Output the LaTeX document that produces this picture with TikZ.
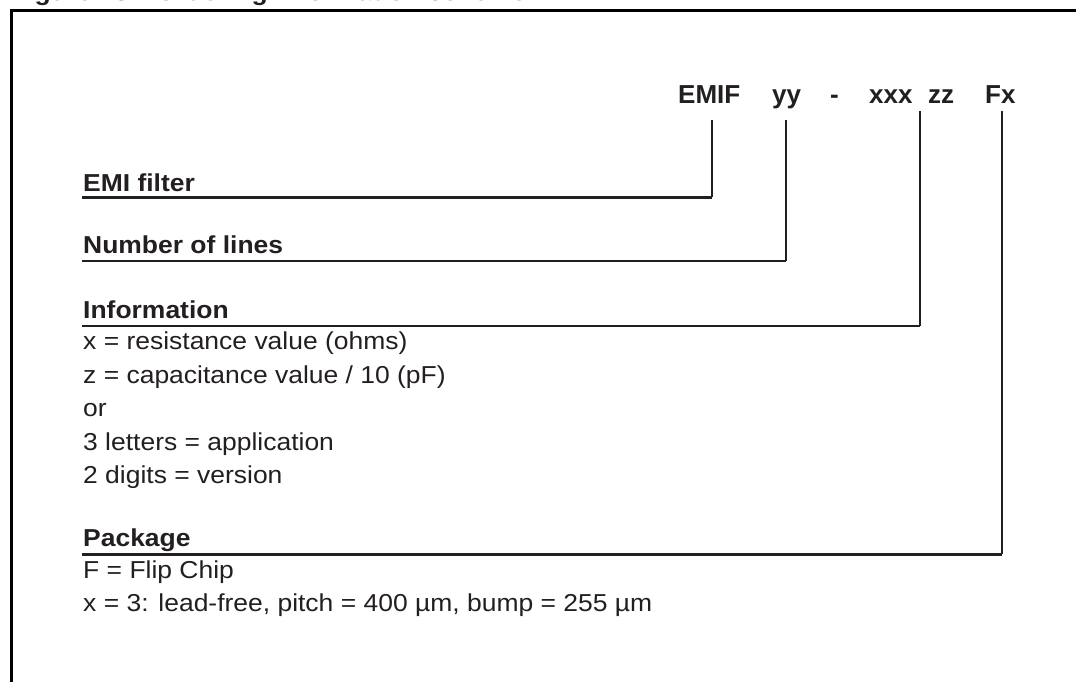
\documentclass[tikz,border=0pt]{standalone}
\usepackage{fontspec}
\setmainfont{Liberation Sans}
\newfontfamily\wfont[FakeStretch=1.08]{Liberation Sans}
\definecolor{ink}{RGB}{35,31,32}
\tikzset{
  codetxt/.style={anchor=base west, inner sep=0pt, text=ink, font=\bfseries\fontsize{26}{30}\selectfont},
  lbl/.style={anchor=base west, inner sep=0pt, text=ink, font=\wfont\bfseries\fontsize{24.5}{30}\selectfont},
  body/.style={anchor=base west, inner sep=0pt, text=ink, font=\wfont\fontsize{24.5}{30}\selectfont},
  conn/.style={draw=ink, line width=2pt},
  uline/.style={draw=ink, line width=2.4pt},
  frame/.style={draw=black, line width=3pt}
}
\begin{document}
\begin{tikzpicture}[x=1pt,y=-1pt]
\useasboundingbox (0,0) rectangle (1076,682);
% frame
\coordinate (fbl) at (11,700);
\coordinate (ftl) at (11,11);
\coordinate (ftr) at (1090,11);
\draw[frame] (fbl) -- (ftl) -- (ftr);
% cut-off title above the frame (only its lowest pixels lie on the page)
\node[lbl, anchor=base west] (title) at (11,0.3) {Figure 13.\hspace{20pt}Ordering information scheme};
% code
\node[codetxt] (emif) at (678,103.3) {EMIF};
\node[codetxt] (yy) at (772,103.3) {yy};
\node[codetxt] (dash) at (830,103.3) {-};
\node[codetxt] (xxx) at (869,103.3) {xxx};
\node[codetxt] (zz) at (928,103.3) {zz};
\node[codetxt] (fx) at (985,103.3) {Fx};
% labels
\node[lbl] (emi) at (83,191.7) {EMI filter};
\node[lbl] (nlines) at (83,253.5) {Number of lines};
\node[lbl] (info) at (83,318.5) {Information};
\node[body] (i1) at (83,349.5) {x = resistance value (ohms)};
\node[body] (i2) at (83,383) {z = capacitance value / 10 (pF)};
\node[body] (i3) at (83,416.5) {or};
\node[body] (i4) at (83,450) {3 letters = application};
\node[body] (i5) at (83,483.5) {2 digits = version};
\node[lbl] (pkg) at (83,546.7) {Package};
\node[body] (p1) at (83,578.5) {F = Flip Chip};
\node[body] (p2) at (83,611) {x = 3: lead-free, pitch = 400 µm, bump = 255 µm};
% connector end points
\coordinate (emi-t) at (711.5,120);
\coordinate (emi-l) at (82,197.3);
\coordinate (nl-t) at (785.5,120);
\coordinate (nl-l) at (82,260.7);
\coordinate (in-t) at (920,111);
\coordinate (in-l) at (82,325.7);
\coordinate (pk-t) at (1001.5,111);
\coordinate (pk-l) at (82,554.3);
% connectors
\draw[conn] (emi-t) -- (emi-t |- emi-l);
\draw[uline] (emi-l) -- (emi-t |- emi-l);
\draw[conn] (nl-t) -- (nl-t |- nl-l);
\draw[uline] (nl-l) -- (nl-t |- nl-l);
\draw[conn] (in-t) -- (in-t |- in-l);
\draw[uline] (in-l) -- (in-t |- in-l);
\draw[conn] (pk-t) -- (pk-t |- pk-l);
\draw[uline] (pk-l) -- (pk-t |- pk-l);
\end{tikzpicture}
\end{document}
